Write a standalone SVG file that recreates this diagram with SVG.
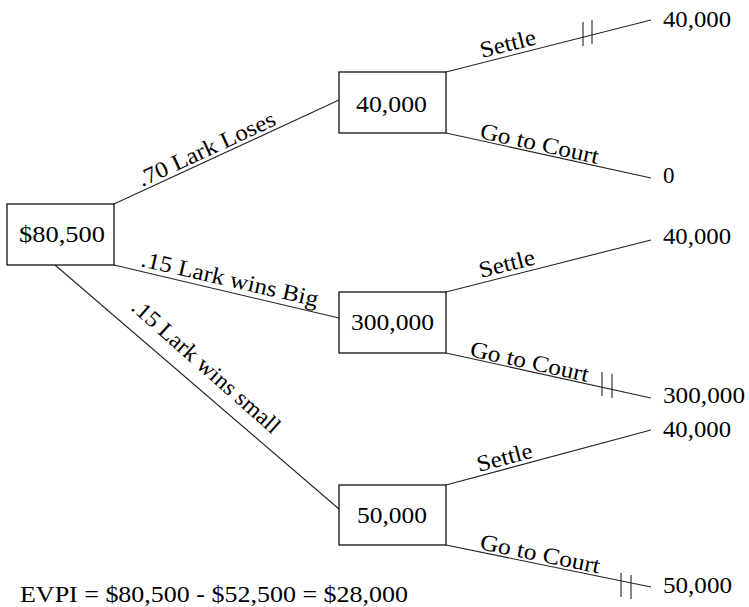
<svg xmlns="http://www.w3.org/2000/svg" width="749" height="607" viewBox="0 0 749 607">
  <style>
    text { font-family: "Liberation Serif", "Times New Roman", serif; font-size: 23px; fill: #000; }
    .box { fill: #fff; stroke: #111; stroke-width: 1.3; }
    .edge { stroke: #222; stroke-width: 1.1; fill: none; }
    .tick { stroke: #222; stroke-width: 1.1; }
  </style>
  <rect width="749" height="607" fill="#fff"/>

  <!-- branches -->
  <g id="connectors">
    <line class="edge" x1="114" y1="204" x2="339" y2="100"/>
    <line class="edge" x1="114" y1="265" x2="339" y2="318"/>
    <line class="edge" x1="55" y1="265" x2="339" y2="509"/>

    <line class="edge" x1="446" y1="72" x2="651" y2="20"/>
    <line class="edge" x1="446" y1="133" x2="651" y2="178"/>
    <line class="edge" x1="446" y1="292" x2="651" y2="240"/>
    <line class="edge" x1="446" y1="353" x2="651" y2="398"/>
    <line class="edge" x1="446" y1="485" x2="651" y2="430"/>
    <line class="edge" x1="446" y1="545" x2="651" y2="587"/>

    <!-- pruned-branch marks -->
    <line class="tick" x1="583" y1="22" x2="583" y2="46"/>
    <line class="tick" x1="592" y1="20" x2="592" y2="44"/>
    <line class="tick" x1="602" y1="372" x2="602" y2="396"/>
    <line class="tick" x1="612" y1="374" x2="612" y2="398"/>
    <line class="tick" x1="621" y1="573" x2="621" y2="597"/>
    <line class="tick" x1="631" y1="575" x2="631" y2="599"/>

    <!-- branch labels -->
    <text transform="translate(142,187) rotate(-24.8)" textLength="149" lengthAdjust="spacingAndGlyphs">.70 Lark Loses</text>
    <text transform="translate(140,266) rotate(13)" textLength="181" lengthAdjust="spacingAndGlyphs">.15 Lark wins Big</text>
    <text transform="translate(130,309) rotate(41.5)" textLength="190" lengthAdjust="spacingAndGlyphs">.15 Lark wins small</text>

    <text transform="translate(482,58) rotate(-14.2)" textLength="57" lengthAdjust="spacingAndGlyphs">Settle</text>
    <text transform="translate(479,138) rotate(12.4)" textLength="121" lengthAdjust="spacingAndGlyphs">Go to Court</text>
    <text transform="translate(481,278) rotate(-14.2)" textLength="57" lengthAdjust="spacingAndGlyphs">Settle</text>
    <text transform="translate(469,356) rotate(12.4)" textLength="121" lengthAdjust="spacingAndGlyphs">Go to Court</text>
    <text transform="translate(479,472) rotate(-15)" textLength="57" lengthAdjust="spacingAndGlyphs">Settle</text>
    <text transform="translate(479,549) rotate(11.6)" textLength="122" lengthAdjust="spacingAndGlyphs">Go to Court</text>
  </g>

  <!-- decision nodes -->
  <g id="node-root">
    <rect class="box" x="7" y="204" width="107" height="61"/>
    <text x="19" y="242" textLength="86" lengthAdjust="spacingAndGlyphs">$80,500</text>
  </g>
  <g id="node-loses">
    <rect class="box" x="339" y="72" width="107" height="61"/>
    <text x="356" y="112" textLength="71" lengthAdjust="spacingAndGlyphs">40,000</text>
  </g>
  <g id="node-wins-big">
    <rect class="box" x="339" y="292" width="107" height="61"/>
    <text x="351" y="330" textLength="83" lengthAdjust="spacingAndGlyphs">300,000</text>
  </g>
  <g id="node-wins-small">
    <rect class="box" x="339" y="485" width="107" height="60"/>
    <text x="357" y="523" textLength="70" lengthAdjust="spacingAndGlyphs">50,000</text>
  </g>

  <!-- payoffs -->
  <g id="payoff-1"><text x="663" y="27" textLength="68" lengthAdjust="spacingAndGlyphs">40,000</text></g>
  <g id="payoff-2"><text x="663" y="183">0</text></g>
  <g id="payoff-3"><text x="663" y="244" textLength="68" lengthAdjust="spacingAndGlyphs">40,000</text></g>
  <g id="payoff-4"><text x="663" y="403" textLength="82" lengthAdjust="spacingAndGlyphs">300,000</text></g>
  <g id="payoff-5"><text x="663" y="437" textLength="68" lengthAdjust="spacingAndGlyphs">40,000</text></g>
  <g id="payoff-6"><text x="663" y="593" textLength="69" lengthAdjust="spacingAndGlyphs">50,000</text></g>

  <text id="evpi" x="20" y="602" textLength="388" lengthAdjust="spacingAndGlyphs">EVPI = $80,500 - $52,500 = $28,000</text>
</svg>
